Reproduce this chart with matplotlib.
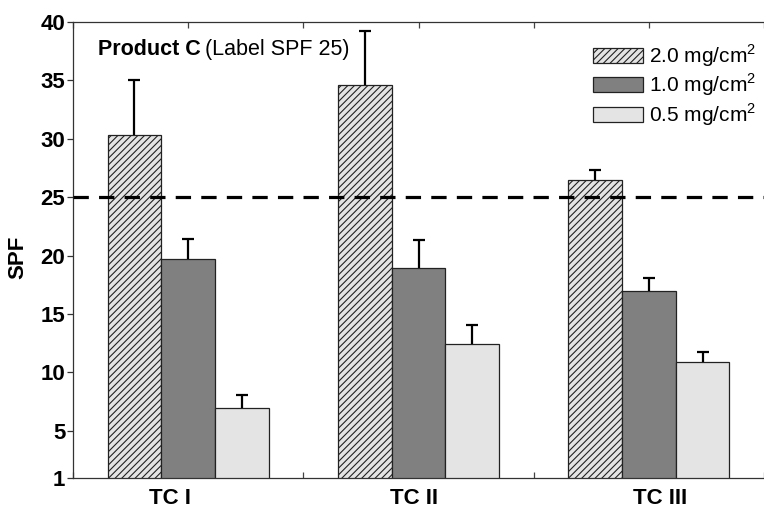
import matplotlib
matplotlib.use('Agg')
import matplotlib.pyplot as plt
import numpy as np

plt.rcParams['font.family'] = ['Liberation Sans', 'DejaVu Sans']
plt.rcParams['mathtext.fontset'] = 'custom'
plt.rcParams['mathtext.rm'] = 'Liberation Sans'
plt.rcParams['hatch.linewidth'] = 0.8

# data
grupos = ['TC I', 'TC II', 'TC III']
dosis = ['2.0 mg/cm$^2$', '1.0 mg/cm$^2$', '0.5 mg/cm$^2$']
spf_20 = [30.3, 34.6, 26.5]
err_20 = [4.7, 4.6, 0.85]
spf_10 = [19.7, 18.9, 17.0]
err_10 = [1.7, 2.4, 1.1]
spf_05 = [7.0, 12.4, 10.9]
err_05 = [1.05, 1.7, 0.85]
spf_etiqueta = 25
yticks = [1, 5, 10, 15, 20, 25, 30, 35, 40]

fig = plt.figure(figsize=(7.64, 5.13), dpi=100)
ax = fig.add_axes([73 / 764, 1 - 477.7 / 513, 1 - 73 / 764, (477.7 - 21.7) / 513])

x = np.arange(len(grupos))
ancho = 0.233

series = [
    (spf_20, err_20, dict(color='#e4e4e4', hatch='/////')),
    (spf_10, err_10, dict(color='#808080', hatch=None)),
    (spf_05, err_05, dict(color='#e4e4e4', hatch=None)),
]

handles = []
for i, (vals, errs, est) in enumerate(series):
    pos = x + (i - 1) * ancho
    b = ax.bar(pos, vals, ancho, color=est['color'], edgecolor='#222222',
               linewidth=0.9, hatch=est['hatch'], zorder=2)
    handles.append(b)
    eb = ax.errorbar(pos, vals, yerr=[np.zeros(len(vals)), errs], fmt='none',
                     ecolor='black', elinewidth=1.6, capsize=4, capthick=1.6, zorder=3)
    # solo la barra superior
    eb.lines[1][0].set_visible(False)

ax.axhline(spf_etiqueta, color='black', linewidth=2.3, linestyle=(0, (4.8, 3.2)), zorder=4)

ax.set_xlim(-0.5, -0.5 + (764 - 73) / 233.3)
ax.set_ylim(1, 40)
ax.set_yticks(yticks)
ax.set_yticklabels([str(t) for t in yticks], fontsize=16, fontweight='bold')
ax.set_xticks(np.arange(-0.5, 3.0, 0.5))
ax.set_xticklabels([])
ax.tick_params(axis='x', direction='in', top=True, length=4, width=0.9, color='#444444')
ax.tick_params(axis='y', direction='out', length=4.5, width=0.9, pad=1, color='#333333')

for s in ['left', 'bottom', 'top']:
    ax.spines[s].set_color('#333333')
    ax.spines[s].set_linewidth(0.9)
ax.spines['right'].set_visible(False)

# etiquetas de grupo (un poco desplazadas como en el original)
label_x = [-0.079, 0.979, 2.047]
for lx, g in zip(label_x, grupos):
    ax.text(lx, -0.022, g, transform=ax.get_xaxis_transform(), ha='center', va='top',
            fontsize=16, fontweight='bold')

fig.text(17.5 / 764, 0.499, 'SPF', rotation=90, ha='center', va='center',
         fontsize=16, fontweight='bold')

leg = ax.legend(handles, dosis, loc='upper left', bbox_to_anchor=(593 / 764, 1 - 42 / 513),
                bbox_transform=fig.transFigure, frameon=False, fontsize=15,
                handlelength=2.4, handleheight=0.72, labelspacing=0.14,
                handletextpad=0.3, borderpad=0, borderaxespad=0)

t1 = fig.text(98 / 764, 1 - 55 / 513, 'Product C', fontsize=15.5, fontweight='bold',
              va='baseline', ha='left')
fig.canvas.draw()
bb = t1.get_window_extent()
fig.text((bb.x1 + 4) / 764, 1 - 55 / 513, '(Label SPF 25)', fontsize=15.5,
         va='baseline', ha='left')

plt.savefig('out.png', dpi=100)
plt.close()
